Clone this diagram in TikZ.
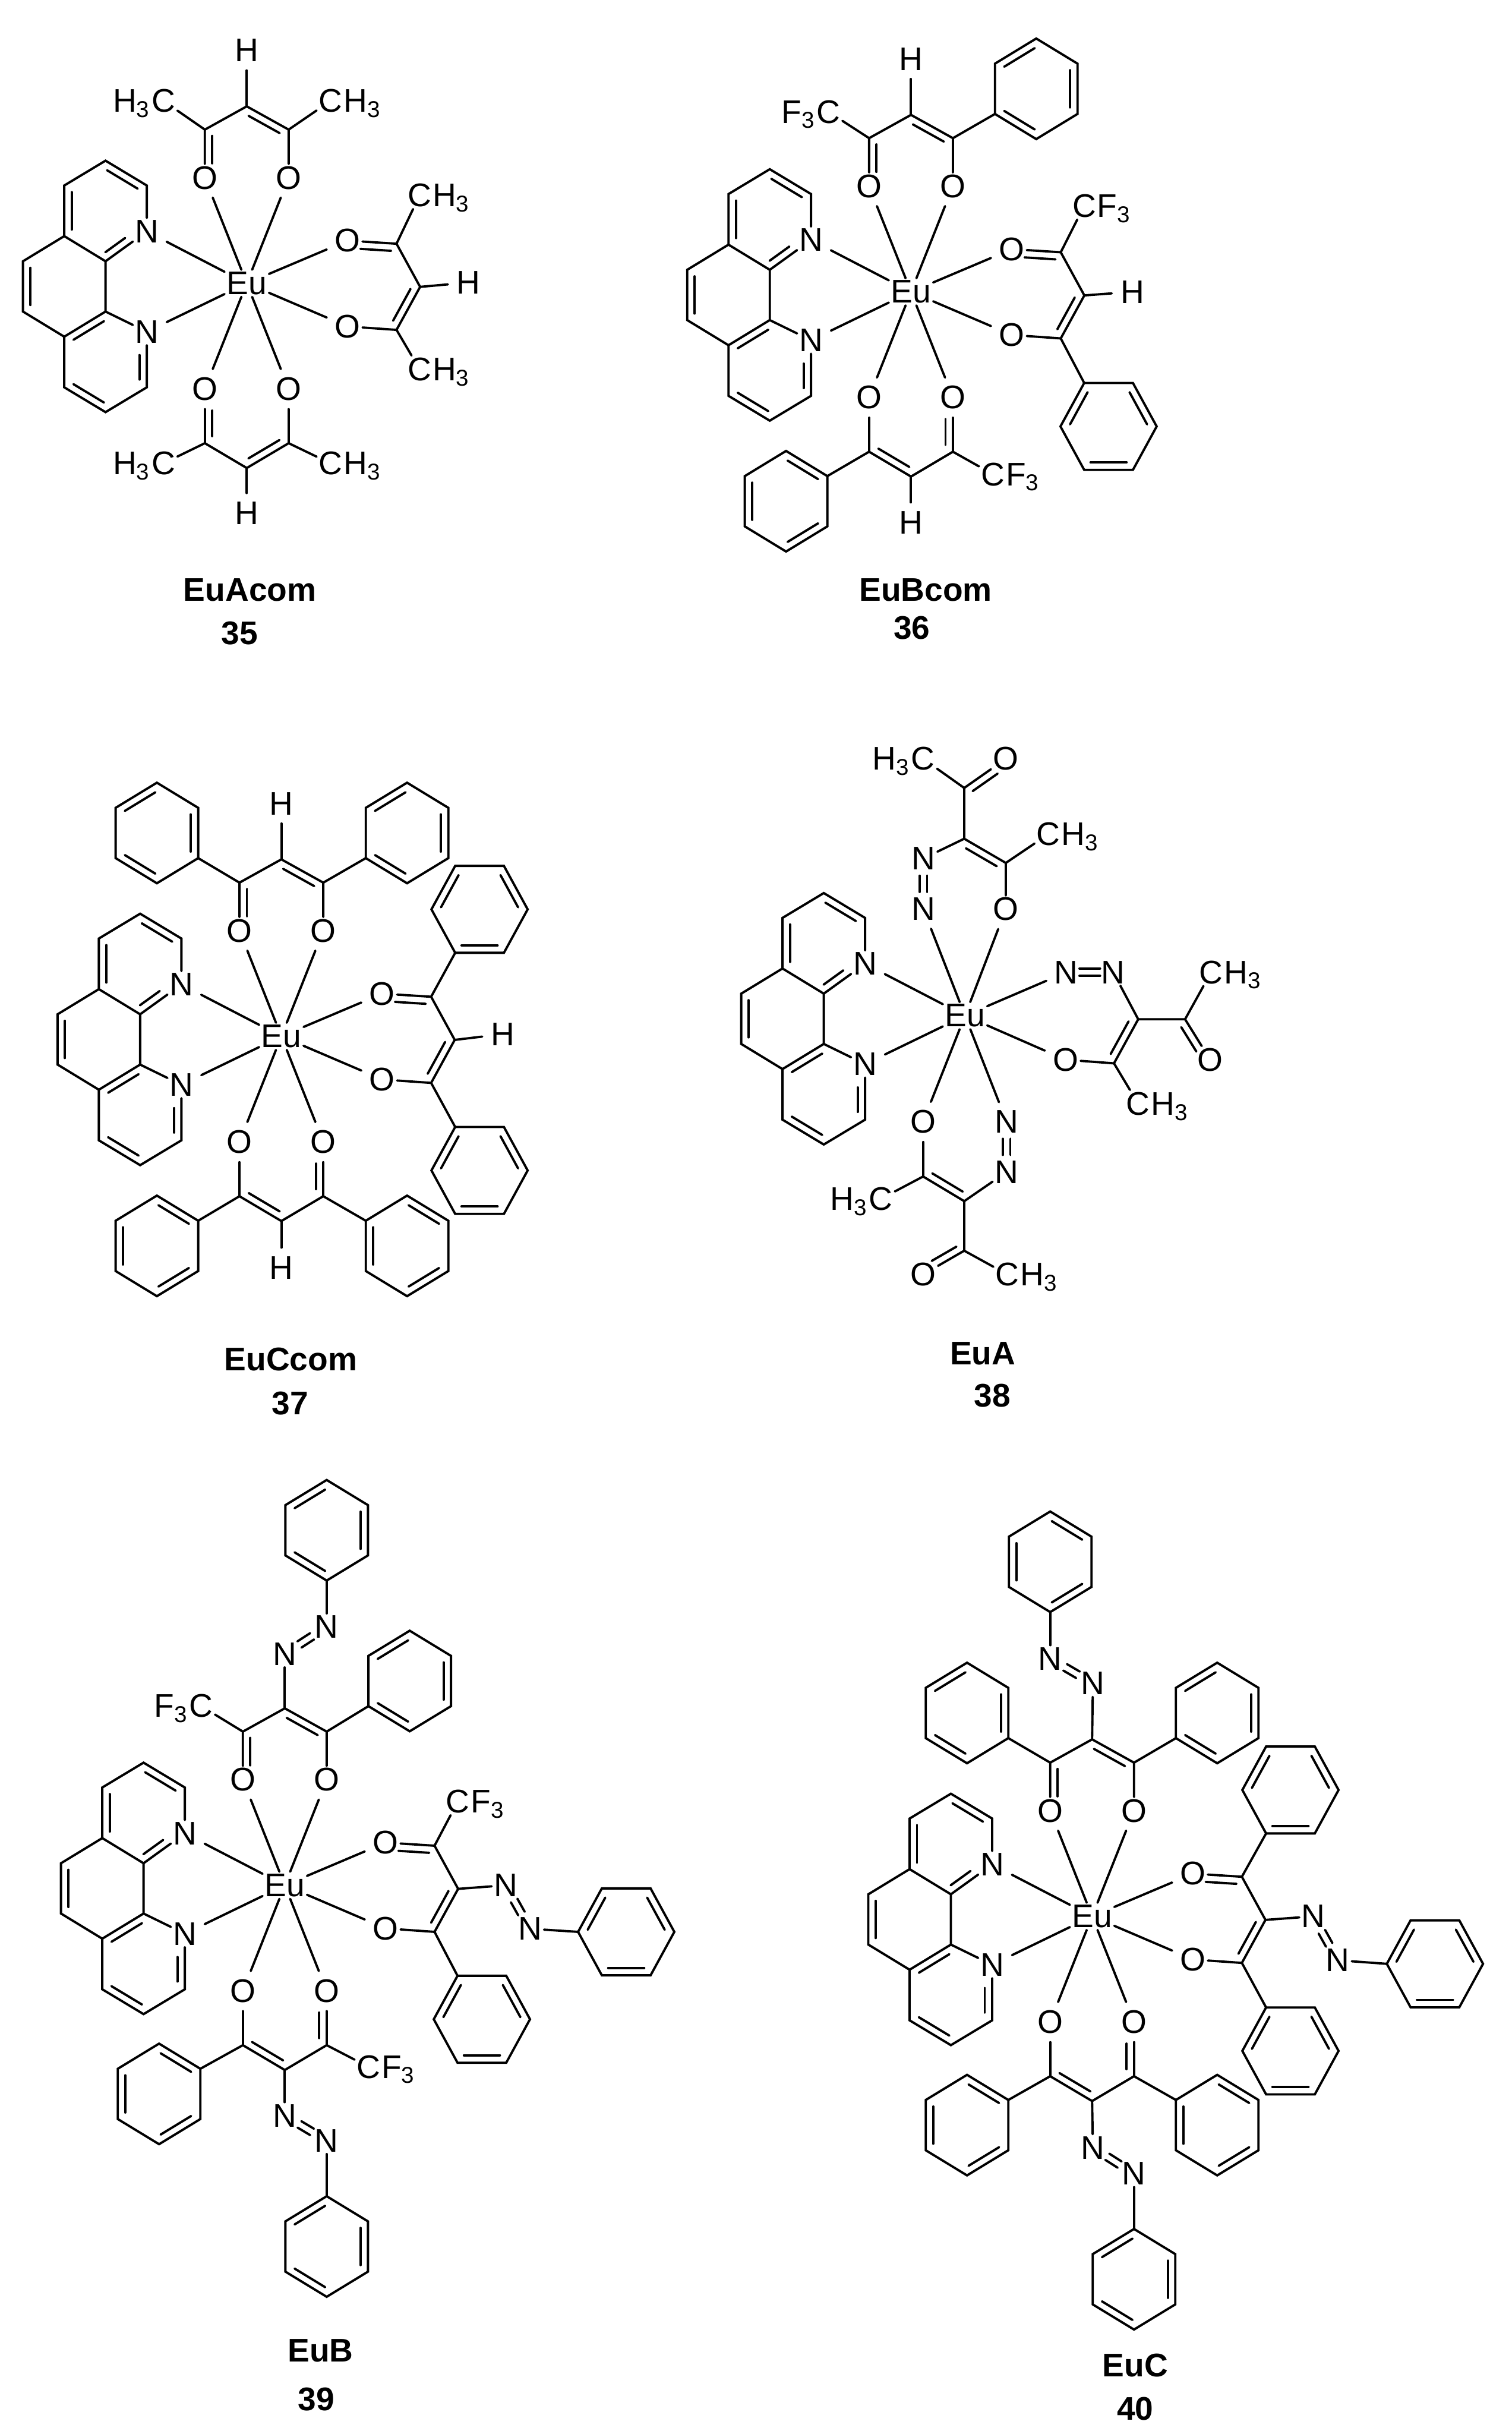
\documentclass[tikz,border=0pt]{standalone}
\usepackage{fontspec}
\setmainfont{Liberation Sans}
\usetikzlibrary{calc}
\newcommand{\atomfont}{\fontsize{15}{18}\selectfont}
\newcommand{\capfont}{\fontsize{15}{18}\selectfont\bfseries}
\tikzset{
  atom/.style={inner sep=0pt,outer sep=1pt,font=\atomfont},
  atomtail/.style={inner sep=0pt,font=\atomfont},
  capt/.style={inner sep=0pt,font=\capfont},
  gapbond/.style={shorten >=3pt}
}
% second line of a double bond, left of the way from #1 to #2
\newcommand{\dblx}[4]{\draw ($(#1)!#3!(#2)!3.4pt!90:(#2)$) -- ($(#2)!#4!(#1)!3.4pt!-90:(#1)$);}
\newcommand{\dbl}[2]{\dblx{#1}{#2}{.13}{.13}}
% azo bond, two short lines
\newcommand{\dbln}[3]{%
  \draw ($(#1)!#3!(#2)!1.7pt!90:(#2)$) -- ($(#2)!#3!(#1)!1.7pt!-90:(#1)$);
  \draw ($(#1)!#3!(#2)!1.7pt!-90:(#2)$) -- ($(#2)!#3!(#1)!1.7pt!90:(#1)$);}
% groups with the carbon as the node
\newcommand{\grpr}[3]{\node[atom] (#1) at (#2) {C};
  \node[atomtail,anchor=base west,xshift=-1pt] (#1t) at (#1.base east) {#3\textsubscript{3}};}
\newcommand{\grpl}[3]{\node[atom] (#1) at (#2) {C};
  \node[atomtail,anchor=base east,xshift=1pt] (#1t) at (#1.base west) {#3\textsubscript{3}};}
% rings
\newcommand{\ringcorners}[1]{\draw (#1-1) -- (#1-2) -- (#1-3) -- (#1-4) -- (#1-5) -- (#1-6) -- cycle;}
\newcommand{\ringpts}[2]{\begin{scope}[shift={(#2)}]
  \coordinate (#1-1) at (0,-32.4); \coordinate (#1-2) at (26.6,-16.2);
  \coordinate (#1-3) at (26.6,16.2); \coordinate (#1-4) at (0,32.4);
  \coordinate (#1-5) at (-26.6,16.2); \coordinate (#1-6) at (-26.6,-16.2);
  \end{scope}\ringcorners{#1}}
\newcommand{\ringl}[2]{\ringpts{#1}{#2}\dbl{#1-1}{#1-6}\dbl{#1-3}{#1-2}\dbl{#1-5}{#1-4}}
\newcommand{\ringr}[2]{\ringpts{#1}{#2}\dbl{#1-2}{#1-1}\dbl{#1-6}{#1-5}\dbl{#1-4}{#1-3}}
\newcommand{\ringf}[2]{\begin{scope}[shift={(#2)}]
  \coordinate (#1-1) at (-15.7,-28); \coordinate (#1-2) at (15.7,-28);
  \coordinate (#1-3) at (31,0); \coordinate (#1-4) at (15.7,28);
  \coordinate (#1-5) at (-15.7,28); \coordinate (#1-6) at (-31,0);
  \end{scope}\ringcorners{#1}\dbl{#1-1}{#1-6}\dbl{#1-3}{#1-2}\dbl{#1-5}{#1-4}}
% metal and phenanthroline
\newcommand{\eucore}{%
  \node[atom] (Eu) at (0,0) {Eu};
  \begin{scope}[shift={(-91,2)}]
  \coordinate (p1) at (0,-81); \coordinate (p2) at (26.6,-65);
  \node[atom] (N1) at (26.6,-35.4) {N};
  \coordinate (p3) at (0,-16.2); \coordinate (p4) at (-26.6,-32.4);
  \coordinate (p5) at (-26.6,-65); \coordinate (p6) at (-53.2,-16.2);
  \coordinate (p7) at (-53.2,16.2); \coordinate (p8) at (-26.6,32.4);
  \coordinate (p9) at (0,16.2); \node[atom] (N2) at (26.6,29.2) {N};
  \coordinate (p10) at (26.6,65); \coordinate (p11) at (0,81);
  \coordinate (p12) at (-26.6,65);
  \end{scope}
  \draw (N1) -- (p2) -- (p1) -- (p5) -- (p4) -- (p3) -- (N1);
  \draw (p3) -- (p9) -- (N2) -- (p10) -- (p11) -- (p12) -- (p8) -- (p9);
  \draw (p4) -- (p6) -- (p7) -- (p8);
  \dbl{p2}{p1}\dbl{p5}{p4}\dbl{p6}{p7}\dbl{p9}{p8}\dbl{p12}{p11}
  \dblx{p3}{N1}{.1}{.42}\dblx{p10}{N2}{.14}{.42}
  \draw[gapbond] (Eu) -- (N1);
  \draw[gapbond] (Eu) -- (N2);}
% the three diketonate ligands
\newcommand{\ligtop}{%
  \node[atom] (tO1) at (-27,-68) {O}; \node[atom] (tO2) at (27,-68) {O};
  \coordinate (tC1) at (-27,-99); \coordinate (tC2) at (27,-99); \coordinate (tC0) at (0,-114);
  \draw (tO1) -- (tC1) -- (tC0) -- (tC2) -- (tO2);
  \dblx{tC1}{tO1}{.13}{.3}\dbl{tC2}{tC0}
  \draw[gapbond] (Eu) -- (tO1);
  \draw[gapbond] (Eu) -- (tO2);}
\newcommand{\ligright}{%
  \node[atom] (rO1) at (65,-27.5) {O}; \node[atom] (rO2) at (65,27.8) {O};
  \coordinate (rC1) at (96.5,-25.5); \coordinate (rC2) at (96.5,30); \coordinate (rC0) at (111.7,2.3);
  \draw (rO1) -- (rC1) -- (rC0) -- (rC2) -- (rO2);
  \dblx{rC1}{rO1}{.1}{.27}\dbl{rC2}{rC0}
  \draw[gapbond] (Eu) -- (rO1);
  \draw[gapbond] (Eu) -- (rO2);}
\newcommand{\ligbase}{%
  \node[atom] (bO1) at (-27,68) {O}; \node[atom] (bO2) at (27,68) {O};
  \coordinate (bC1) at (-27,103); \coordinate (bC2) at (27,103); \coordinate (bC0) at (0,119);
  \draw (bC1) -- (bC0) -- (bC2);
  \draw[gapbond] (bC1) -- (bO1);
  \draw[gapbond] (bC2) -- (bO2);
  \draw[gapbond] (Eu) -- (bO1);
  \draw[gapbond] (Eu) -- (bO2);}
\newcommand{\ligbotl}{\ligbase\dblx{bO1}{bC1}{.4}{.13}\dbl{bC0}{bC2}}
\newcommand{\ligbotr}{\ligbase\dblx{bC2}{bO2}{.13}{.4}\dbl{bC1}{bC0}}
\begin{document}
\begin{tikzpicture}[x=0.025cm,y=-0.025cm,line width=1.05pt,line cap=round]
\useasboundingbox (0,0) rectangle (974,1568);

% EuAcom
\begin{scope}[shift={(159,182.5)},name prefix=aa-]
\eucore
\ligtop
\ligright
\ligbotl
\node[atom] (tH) at (0,-150) {H};
\node[atom] (rH) at (142.8,-0.5) {H};
\node[atom] (bH) at (0,148) {H};
\draw[gapbond] (tC0) -- (tH);
\draw[gapbond] (rC0) -- (rH);
\draw[gapbond] (bC0) -- (bH);
\grpl{tMe}{-53.7,-117.5}{H}
\grpr{tMf}{54,-117.5}{H}
\grpr{rMe}{111.4,-56.7}{H}
\grpr{rMf}{111.4,55.4}{H}
\grpl{bMe}{-53.7,116}{H}
\grpr{bMf}{54,116}{H}
\draw (tC1) -- (tMe);
\draw (tC2) -- (tMf);
\draw (rC1) -- (rMe);
\draw (rC2) -- (rMf);
\draw (bC1) -- (bMe);
\draw (bC2) -- (bMf);
\end{scope}
\node[capt] (lab35) at (161,380) {EuAcom};
\node[capt] (num35) at (154.5,408) {35};

% EuBcom
\begin{scope}[shift={(587,188)},name prefix=bb-]
\eucore
\ligtop
\ligright
\ligbotr
\node[atom] (tH) at (0,-150) {H};
\node[atom] (rH) at (142.6,0) {H};
\node[atom] (bH) at (0,148.5) {H};
\draw[gapbond] (tC0) -- (tH);
\draw[gapbond] (rC0) -- (rH);
\draw[gapbond] (bC0) -- (bH);
\grpl{tMe}{-53.2,-116}{F}
\grpr{rMe}{111.6,-55.4}{F}
\grpr{bMe}{52.8,117.5}{F}
\draw (tC1) -- (tMe);
\draw (rC1) -- (rMe);
\draw (bC2) -- (bMe);
\ringl{tb}{80.7,-130.8}
\ringf{rb}{127.3,86.7}
\ringr{ba}{-80.5,134.9}
\draw (tC2) -- (tb-5);
\draw (rC2) -- (rb-1);
\draw (bC1) -- (ba-2);
\end{scope}
\node[capt] (lab36) at (596.5,380) {EuBcom};
\node[capt] (num36) at (587.6,404.4) {36};

% EuCcom
\begin{scope}[shift={(181.3,667.6)},name prefix=cc-]
\eucore
\ligtop
\ligright
\ligbotr
\node[atom] (tH) at (0,-150) {H};
\node[atom] (rH) at (142.6,-1.4) {H};
\node[atom] (bH) at (0,149) {H};
\draw[gapbond] (tC0) -- (tH);
\draw[gapbond] (rC0) -- (rH);
\draw[gapbond] (bC0) -- (bH);
\ringl{ta}{-80.2,-131}
\ringl{tb}{81,-131}
\ringf{ra}{127.7,-81.8}
\ringf{rb}{127.7,86.4}
\ringr{ba}{-80.2,135}
\ringr{bb}{81,135}
\draw (tC1) -- (ta-3);
\draw (tC2) -- (tb-5);
\draw (rC1) -- (ra-5);
\draw (rC2) -- (rb-1);
\draw (bC1) -- (ba-2);
\draw (bC2) -- (bb-6);
\end{scope}
\node[capt] (lab37) at (187.4,875.5) {EuCcom};
\node[capt] (num37) at (187,904) {37};

% EuA
\begin{scope}[shift={(621.8,654.3)},name prefix=dd-]
\eucore
% upper ligand
\node[atom] (tN2) at (-26.8,-68.6) {N};
\node[atom] (tN1) at (-26.8,-101.3) {N};
\node[atom] (tO2) at (26.3,-68.6) {O};
\node[atom] (tO3) at (26.3,-165.5) {O};
\coordinate (tC2) at (26.3,-98.4);
\coordinate (tC0) at (-.5,-114);
\coordinate (tC3) at (-.5,-146.7);
\grpl{tMe}{-27,-165.5}{H}
\grpr{tMf}{53.8,-117}{H}
\draw (tN1) -- (tC0) -- (tC2) -- (tO2);
\draw (tC2) -- (tMf);
\draw (tC0) -- (tC3) -- (tMe);
\draw (tC3) -- (tO3);
\dbl{tC2}{tC0}
\dblx{tO3}{tC3}{.3}{.1}
\dbln{tN1}{tN2}{.34}
\draw[gapbond] (Eu) -- (tN2);
\draw[gapbond] (Eu) -- (tO2);
% right ligand
\node[atom] (rN1) at (65.3,-28) {N};
\node[atom] (rN2) at (95.5,-28) {N};
\node[atom] (rO1) at (64.9,28.4) {O};
\node[atom] (rO3) at (158,28.4) {O};
\coordinate (rC0) at (111.6,2.3);
\coordinate (rC2) at (96,30.7);
\coordinate (rC3) at (141.8,2.3);
\grpr{rMe}{158.6,-28}{H}
\grpr{rMf}{111.6,56.7}{H}
\draw (rN2) -- (rC0) -- (rC2) -- (rO1);
\draw (rC2) -- (rMf);
\draw (rC0) -- (rC3) -- (rMe);
\draw (rC3) -- (rO3);
\dbl{rC2}{rC0}
\dblx{rO3}{rC3}{.3}{.1}
\dbln{rN1}{rN2}{.28}
\draw[gapbond] (Eu) -- (rN1);
\draw[gapbond] (Eu) -- (rO1);
% lower ligand
\node[atom] (bO1) at (-27,68.3) {O};
\node[atom] (bN2) at (26.8,68.3) {N};
\node[atom] (bN1) at (26.8,100.7) {N};
\node[atom] (bO3) at (-27,166.7) {O};
\coordinate (bC1) at (-27,103.6);
\coordinate (bC0) at (-.5,119.5);
\coordinate (bC3) at (-.5,151.4);
\grpr{bMe}{27.3,166.7}{H}
\grpl{bMf}{-54.2,118}{H}
\draw (bC1) -- (bC0) -- (bN1);
\draw[gapbond] (bC1) -- (bO1);
\draw (bC1) -- (bMf);
\draw (bC0) -- (bC3) -- (bMe);
\draw (bC3) -- (bO3);
\dbl{bC1}{bC0}
\dblx{bO3}{bC3}{.3}{.1}
\dbln{bN2}{bN1}{.34}
\draw[gapbond] (Eu) -- (bO1);
\draw[gapbond] (Eu) -- (bN2);
\end{scope}
\node[capt] (lab38) at (633.3,872) {EuA};
\node[capt] (num38) at (639.4,899) {38};

% EuB
\begin{scope}[shift={(183.5,1214.5)},name prefix=ee-]
\eucore
\ligtop
\ligright
\ligbotr
\node[atom] (tN1) at (0,-149) {N};
\node[atom] (tN2) at (27,-166.5) {N};
\node[atom] (rN1) at (142.3,0) {N};
\node[atom] (rN2) at (158,28) {N};
\node[atom] (bN1) at (0,148.4) {N};
\node[atom] (bN2) at (27,164.5) {N};
\dbln{tN2}{tN1}{.35}
\dbln{rN1}{rN2}{.35}
\dbln{bN1}{bN2}{.35}
\draw (tC0) -- (tN1);
\draw (rC0) -- (rN1);
\draw (bC0) -- (bN1);
\grpl{tMe}{-54,-115.5}{F}
\grpr{rMe}{111.5,-54}{F}
\grpr{bMe}{54,117}{F}
\draw (tC1) -- (tMe);
\draw (rC1) -- (rMe);
\draw (bC2) -- (bMe);
\ringl{tb}{80.5,-131.6}
\ringl{tc}{27,-228.7}
\ringf{rb}{127,86.3}
\ringf{rc}{220,30}
\ringr{ba}{-81,134.4}
\ringl{bc}{27,232.7}
\draw (tC2) -- (tb-5);
\draw (tN2) -- (tc-4);
\draw (rC2) -- (rb-1);
\draw (rN2) -- (rc-6);
\draw (bC1) -- (ba-2);
\draw (bN2) -- (bc-1);
\end{scope}
\node[capt] (lab39) at (206.5,1514.2) {EuB};
\node[capt] (num39) at (203.8,1545.5) {39};

% EuC
\begin{scope}[shift={(703.7,1234.5)},name prefix=ff-]
\eucore
\ligtop
\ligright
\ligbotr
\node[atom] (tN1) at (0.5,-150) {N};
\node[atom] (tN2) at (-27,-166) {N};
\node[atom] (rN1) at (142.5,0) {N};
\node[atom] (rN2) at (158.3,28.3) {N};
\node[atom] (bN1) at (0.5,149) {N};
\node[atom] (bN2) at (27,165.8) {N};
\dbln{tN2}{tN1}{.35}
\dbln{rN1}{rN2}{.35}
\dbln{bN1}{bN2}{.35}
\draw (tC0) -- (tN1);
\draw (rC0) -- (rN1);
\draw (bC0) -- (bN1);
\ringl{ta}{-80.6,-131}
\ringl{tb}{80.6,-131}
\ringr{tc}{-27,-228.4}
\ringf{ra}{127.8,-81.4}
\ringf{rb}{127.8,86.7}
\ringf{rc}{220.9,30.6}
\ringr{ba}{-80.6,134.5}
\ringr{bb}{80.6,134.5}
\ringl{bc}{27,233.8}
\draw (tC1) -- (ta-3);
\draw (tC2) -- (tb-5);
\draw (tN2) -- (tc-4);
\draw (rC1) -- (ra-5);
\draw (rC2) -- (rb-1);
\draw (rN2) -- (rc-6);
\draw (bC1) -- (ba-2);
\draw (bC2) -- (bb-6);
\draw (bN2) -- (bc-1);
\end{scope}
\node[capt] (lab40) at (731.5,1523.7) {EuC};
\node[capt] (num40) at (731.5,1551.6) {40};
\end{tikzpicture}
\end{document}
